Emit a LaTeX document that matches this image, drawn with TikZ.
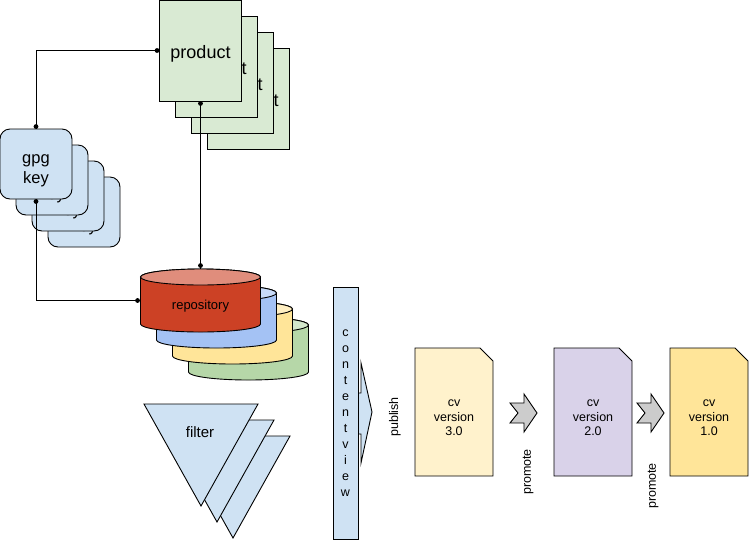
\documentclass[tikz,border=0pt]{standalone}
\usepackage{fontspec}
\setmainfont{Liberation Sans}
\usetikzlibrary{calc}
\definecolor{prodg}{HTML}{D9EAD3}
\definecolor{keyb}{HTML}{CFE2F3}
\definecolor{repr}{HTML}{CC4125}
\definecolor{repb}{HTML}{A4C2F4}
\definecolor{repy}{HTML}{FFE599}
\definecolor{repg}{HTML}{B6D7A8}
\definecolor{cvthree}{HTML}{FFF2CC}
\definecolor{cvtwo}{HTML}{D9D2E9}
\definecolor{cvone}{HTML}{FFE599}
\definecolor{chev}{HTML}{CCCCCC}
\tikzset{
  prodtxt/.style={inner sep=0pt, yshift=-3.5pt, font=\fontsize{18}{21}\selectfont},
  prodbox/.style={draw, fill=prodg, minimum width=82pt, minimum height=101pt, inner sep=0pt, label={[prodtxt]center:product}},
  keytxt/.style={inner sep=0pt, align=center, yshift=-7pt, font=\fontsize{16.5}{19.5}\selectfont},
  keybox/.style={draw, fill=keyb, rounded corners=10pt, minimum width=72pt, minimum height=70pt, inner sep=0pt, label={[keytxt]center:{gpg\\key}}},
  smalltxt/.style={inner sep=0pt, align=center, font=\fontsize{12.5}{14.5}\selectfont},
  enddot/.style={fill=black},
  chevron/.style={draw, fill=chev},
}
\begin{document}
\begin{tikzpicture}[x=1pt, y=1pt, line width=0.9pt]
\useasboundingbox (0,0) rectangle (751,-544);
% product stack
\foreach \k in {3,2,1}{
  \node[prodbox] (prod\k) at (200.5+16*\k, -50.5-16*\k) {};
}
\node[prodbox] (prod) at (200.5,-50.5) {};
% gpg key stack
\foreach \k in {3,2,1}{
  \node[keybox] (gpg\k) at (36+16*\k, -164-16*\k) {};
}
\node[keybox] (gpg) at (36,-164) {};
% repository cylinders
\foreach \k/\c in {3/repg,2/repy,1/repb,0/repr}{
  \draw[fill=\c] (140.5+16*\k, -277-16*\k) -- (140.5+16*\k, -324-16*\k)
     arc[start angle=180, end angle=360, x radius=60, y radius=8]
     -- (260.5+16*\k, -277-16*\k)
     arc[start angle=0, end angle=180, x radius=60, y radius=8] -- cycle;
  \draw[fill=\c!60!white] (200.5+16*\k, -277-16*\k) ellipse[x radius=60, y radius=8];
}
\node[minimum width=120pt, minimum height=63pt, inner sep=0pt,
  label={[inner sep=0pt, yshift=-6pt, font=\fontsize{13}{15}\selectfont]center:repository}] (repo) at (200.5,-300.5) {};
% connectors
\draw (prod.west) -| (gpg.north);
\draw (prod.south) -- (repo.north);
\draw (gpg.south) |- (repo.west);
\fill[enddot] ($(prod.west)+(-2,0)$) circle[radius=2.4];
\fill[enddot] ($(gpg.north)+(0,2)$) circle[radius=2.4];
\fill[enddot] ($(prod.south)+(0,-2)$) circle[radius=2.4];
\fill[enddot] ($(repo.north)+(0,3)$) circle[radius=2.4];
\fill[enddot] ($(gpg.south)+(0,-2)$) circle[radius=2.4];
\fill[enddot] ($(repo.west)+(-2.5,0)$) circle[radius=2.4];
% filter triangles
\foreach \k in {2,1,0}{
  \draw[fill=keyb] (144+16*\k,-404-16*\k) -- (258+16*\k,-404-16*\k) -- (201+16*\k,-506-16*\k) -- cycle;
}
\node[inner sep=0pt, font=\fontsize{15}{17}\selectfont] (filt) at (200,-432) {filter};
% content view
\draw[fill=keyb] (350,-393) -- (361,-393) -- (361,-363) -- (372,-412) -- (361,-463) -- (361,-434) -- (350,-434) -- cycle;
\node[draw, fill=keyb, minimum width=25pt, minimum height=252pt, inner sep=0pt, align=center, font=\fontsize{12.5}{16}\selectfont] (cview) at (345.5,-413) {c\\o\\n\\t\\e\\n\\t\\v\\i\\e\\w};
\node[smalltxt, rotate=90] (pub) at (395,-417) {publish};
% cv cards
\draw[fill=cvthree] (415,-348) -- (480,-348) -- (493,-361) -- (493,-476) -- (415,-476) -- cycle;
\node[smalltxt] (cv3) at (454,-418) {cv\\version\\3.0};
\draw[fill=cvtwo] (554,-348) -- (619,-348) -- (632,-361) -- (632,-476) -- (554,-476) -- cycle;
\node[smalltxt] (cv2) at (593,-418) {cv\\version\\2.0};
\draw[fill=cvone] (670,-348) -- (735,-348) -- (748,-361) -- (748,-476) -- (670,-476) -- cycle;
\node[smalltxt] (cv1) at (709,-418) {cv\\version\\1.0};
% promote arrows
\draw[chevron] (510,-403) -- (524,-403) -- (524,-394) -- (537,-413) -- (524,-432) -- (524,-423) -- (510,-423) -- (518,-413) -- cycle;
\draw[chevron] (637,-403) -- (651,-403) -- (651,-394) -- (664,-413) -- (651,-432) -- (651,-423) -- (637,-423) -- (645,-413) -- cycle;
\node[smalltxt, rotate=90] (prom1) at (528,-472) {promote};
\node[smalltxt, rotate=90] (prom2) at (653,-486) {promote};
\end{tikzpicture}
\end{document}
